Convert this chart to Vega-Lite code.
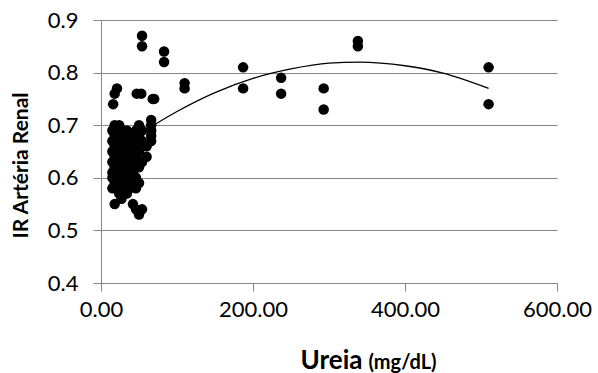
{
  "$schema": "https://vega.github.io/schema/vega-lite/v6.json",
  "width": 456,
  "height": 263,
  "autosize": {"type": "none"},
  "padding": {"left": 101, "top": 20, "right": 41, "bottom": 90},
  "background": "white",
  "config": {
    "view": {"stroke": null},
    "axis": {"labelFont": "Lato", "titleFont": "Lato", "labelColor": "#000", "titleColor": "#000"}
  },
  "datasets": {
    "pts": [
      {"ureia": 54, "ir": 0.87}, {"ureia": 54, "ir": 0.85}, {"ureia": 83, "ir": 0.84}, {"ureia": 83, "ir": 0.82},
      {"ureia": 110, "ir": 0.78}, {"ureia": 110, "ir": 0.77}, {"ureia": 187, "ir": 0.81}, {"ureia": 187, "ir": 0.77},
      {"ureia": 237, "ir": 0.79}, {"ureia": 237, "ir": 0.76}, {"ureia": 293, "ir": 0.77}, {"ureia": 293, "ir": 0.73},
      {"ureia": 338, "ir": 0.86}, {"ureia": 338, "ir": 0.85}, {"ureia": 510, "ir": 0.81}, {"ureia": 510, "ir": 0.74},
      {"ureia": 21, "ir": 0.77}, {"ureia": 18, "ir": 0.76}, {"ureia": 16, "ir": 0.74}, {"ureia": 47, "ir": 0.76},
      {"ureia": 53, "ir": 0.76}, {"ureia": 68, "ir": 0.75},
      {"ureia": 15, "ir": 0.69}, {"ureia": 15, "ir": 0.67}, {"ureia": 15, "ir": 0.65}, {"ureia": 15, "ir": 0.63}, {"ureia": 15, "ir": 0.61}, {"ureia": 15, "ir": 0.60}, {"ureia": 15, "ir": 0.58},
      {"ureia": 18, "ir": 0.70}, {"ureia": 18, "ir": 0.68}, {"ureia": 18, "ir": 0.66}, {"ureia": 18, "ir": 0.64}, {"ureia": 18, "ir": 0.62}, {"ureia": 18, "ir": 0.59}, {"ureia": 18, "ir": 0.55},
      {"ureia": 21, "ir": 0.69}, {"ureia": 21, "ir": 0.67}, {"ureia": 21, "ir": 0.65}, {"ureia": 21, "ir": 0.63}, {"ureia": 21, "ir": 0.61}, {"ureia": 21, "ir": 0.60}, {"ureia": 21, "ir": 0.58},
      {"ureia": 24, "ir": 0.70}, {"ureia": 24, "ir": 0.68}, {"ureia": 24, "ir": 0.66}, {"ureia": 24, "ir": 0.64}, {"ureia": 24, "ir": 0.62}, {"ureia": 24, "ir": 0.60}, {"ureia": 24, "ir": 0.57},
      {"ureia": 27, "ir": 0.69}, {"ureia": 27, "ir": 0.67}, {"ureia": 27, "ir": 0.65}, {"ureia": 27, "ir": 0.63}, {"ureia": 27, "ir": 0.61}, {"ureia": 27, "ir": 0.59}, {"ureia": 27, "ir": 0.56},
      {"ureia": 30, "ir": 0.68}, {"ureia": 30, "ir": 0.66}, {"ureia": 30, "ir": 0.64}, {"ureia": 30, "ir": 0.62}, {"ureia": 30, "ir": 0.60}, {"ureia": 30, "ir": 0.58},
      {"ureia": 34, "ir": 0.69}, {"ureia": 34, "ir": 0.67}, {"ureia": 34, "ir": 0.65}, {"ureia": 34, "ir": 0.63}, {"ureia": 34, "ir": 0.61}, {"ureia": 34, "ir": 0.59}, {"ureia": 34, "ir": 0.57},
      {"ureia": 38, "ir": 0.68}, {"ureia": 38, "ir": 0.66}, {"ureia": 38, "ir": 0.64}, {"ureia": 38, "ir": 0.62}, {"ureia": 38, "ir": 0.60}, {"ureia": 38, "ir": 0.58},
      {"ureia": 42, "ir": 0.67}, {"ureia": 42, "ir": 0.65}, {"ureia": 42, "ir": 0.63}, {"ureia": 42, "ir": 0.61}, {"ureia": 42, "ir": 0.59}, {"ureia": 42, "ir": 0.55},
      {"ureia": 46, "ir": 0.69}, {"ureia": 46, "ir": 0.66}, {"ureia": 46, "ir": 0.64}, {"ureia": 46, "ir": 0.60}, {"ureia": 46, "ir": 0.58}, {"ureia": 46, "ir": 0.54},
      {"ureia": 50, "ir": 0.70}, {"ureia": 50, "ir": 0.68}, {"ureia": 50, "ir": 0.65}, {"ureia": 50, "ir": 0.62}, {"ureia": 50, "ir": 0.59}, {"ureia": 50, "ir": 0.53},
      {"ureia": 54, "ir": 0.69}, {"ureia": 54, "ir": 0.67}, {"ureia": 54, "ir": 0.63}, {"ureia": 54, "ir": 0.54},
      {"ureia": 60, "ir": 0.66}, {"ureia": 60, "ir": 0.64},
      {"ureia": 66, "ir": 0.71}, {"ureia": 66, "ir": 0.70}, {"ureia": 66, "ir": 0.69}, {"ureia": 66, "ir": 0.68}, {"ureia": 66, "ir": 0.67},
      {"ureia": 70, "ir": 0.75}
    ],
    "trend": [
      {"ureia": 15, "ir": 0.647}, {"ureia": 50, "ir": 0.682}, {"ureia": 100, "ir": 0.726}, {"ureia": 150, "ir": 0.762},
      {"ureia": 200, "ir": 0.789}, {"ureia": 250, "ir": 0.807}, {"ureia": 300, "ir": 0.818}, {"ureia": 340, "ir": 0.82},
      {"ureia": 400, "ir": 0.813}, {"ureia": 450, "ir": 0.799}, {"ureia": 510, "ir": 0.77}
    ]
  },
  "resolve": {"scale": {"x": "independent"}, "axis": {"x": "independent"}},
  "layer": [
    {
      "data": {"name": "pts"},
      "mark": {"type": "point", "filled": true, "shape": "circle", "size": 110, "color": "#000", "opacity": 1},
      "encoding": {
        "x": {
          "field": "ureia", "type": "quantitative",
          "scale": {"domain": [0, 600], "nice": false, "zero": false},
          "axis": {
            "values": [0, 200, 400, 600], "format": ".2f", "grid": false,
            "domainColor": "#868686", "tickColor": "#868686", "tickSize": 8,
            "labelFontSize": 22, "labelPadding": 8, "labelFlush": false,
            "title": "Ureia", "titleFontSize": 26, "titleFontWeight": "bold",
            "titleX": 230, "titleY": 85, "titleBaseline": "alphabetic", "titleAlign": "center"
          }
        },
        "y": {
          "field": "ir", "type": "quantitative",
          "scale": {"domain": [0.4, 0.9], "nice": false, "zero": false},
          "axis": {
            "values": [0.4, 0.5, 0.6, 0.7, 0.8, 0.9], "format": ".1f",
            "grid": true, "gridColor": "#868686", "gridWidth": 1,
            "domainColor": "#868686", "tickColor": "#868686", "tickSize": 8,
            "labelFontSize": 22, "labelPadding": 15, "labelFlush": false,
            "title": "IR Artéria Renal", "titleFontSize": 21, "titleFontWeight": "bold",
            "titleX": -80, "titleY": 145, "titleAngle": -90, "titleAlign": "center", "titleBaseline": "middle"
          }
        }
      }
    },
    {
      "data": {"name": "trend"},
      "mark": {"type": "line", "color": "#000", "strokeWidth": 1.3, "interpolate": "monotone"},
      "encoding": {
        "x": {
          "field": "ureia", "type": "quantitative",
          "scale": {"domain": [0, 600], "nice": false, "zero": false},
          "axis": {
            "orient": "bottom", "labels": false, "ticks": false, "domain": false, "grid": false,
            "title": "(mg/dL)", "titleFontSize": 20, "titleFontWeight": "bold",
            "titleX": 301, "titleY": 85, "titleBaseline": "alphabetic", "titleAlign": "center"
          }
        },
        "y": {"field": "ir", "type": "quantitative"}
      }
    }
  ]
}
